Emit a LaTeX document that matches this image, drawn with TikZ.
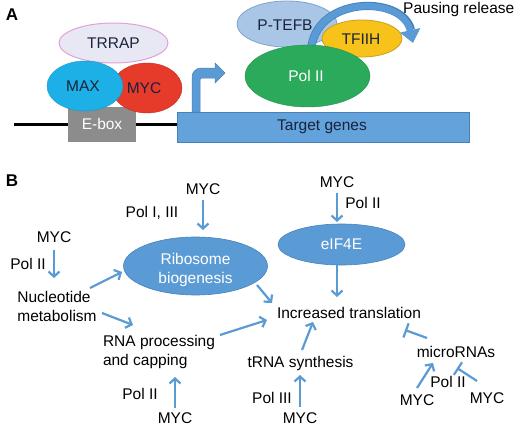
\documentclass[tikz,border=0pt]{standalone}
\usepackage{fontspec}
\setmainfont{Liberation Sans}
\usetikzlibrary{arrows.meta,shapes.geometric,calc}
\definecolor{ablue}{RGB}{91,155,213}
\definecolor{ablued}{RGB}{70,130,190}
\definecolor{navy}{RGB}{25,35,60}
\definecolor{trrapfill}{RGB}{232,232,244}
\definecolor{trrapline}{RGB}{226,160,214}
\definecolor{maxfill}{RGB}{28,176,230}
\definecolor{mycfill}{RGB}{230,58,42}
\definecolor{eboxfill}{RGB}{140,140,140}
\definecolor{tgfill}{RGB}{100,162,220}
\definecolor{tgline}{RGB}{74,128,184}
\definecolor{polfill}{RGB}{42,170,90}
\definecolor{ptefbfill}{RGB}{169,198,230}
\definecolor{ptefbline}{RGB}{126,164,204}
\definecolor{tfiihfill}{RGB}{247,195,26}
\definecolor{tfiihline}{RGB}{200,160,32}
\tikzset{
  fnt/.style={font=\fontsize{15.5}{19}\selectfont},
  lbl/.style={fnt, inner sep=1pt, text=black},
  albl/.style={fnt, inner sep=1pt, text=navy},
  prot/.style={ellipse, inner sep=0pt, outer sep=0pt},
  bell/.style={ellipse, inner sep=0pt, outer sep=0pt, fill=ablue, draw=ablued, line width=0.6pt},
  arr/.style={draw=ablue, line width=2.2pt, -{Straight Barb[length=5pt,width=11pt]}},
  inh/.style={draw=ablue, line width=2.2pt, -{Bar[width=15pt]}},
  panel/.style={font=\fontsize{17}{20}\selectfont\bfseries, inner sep=0pt}
}
\begin{document}
\begin{tikzpicture}[x=1pt,y=-1pt]
\useasboundingbox[fill=white] (0,0) rectangle (520,431);

% ---------- Panel A ----------
\node[panel] (labA) at (12,15) {A};

% DNA line
\coordinate (dnaL) at (14,124);
\node[draw=tgline, fill=tgfill, line width=0.6pt, minimum width=292pt, minimum height=30pt, inner sep=0pt, anchor=north west] (tg) at (177,112) {};
\draw[line width=3pt, black] (dnaL) -- (dnaL -| tg.west);
\node[albl] (tgtxt) at (322,127) {Target genes};

% TRRAP
\node[prot, fill=trrapfill, draw=trrapline, line width=1pt, minimum width=109pt, minimum height=40pt] (trrap) at (113.5,43) {};
\node[albl] at (trrap) {TRRAP};

% E-box
\node[fill=eboxfill, minimum width=68pt, minimum height=35pt, inner sep=0pt] (ebox) at (102,124.5) {};
\node[fnt, text=white, inner sep=1pt] at (102,124) {E-box};

% MYC and MAX
\node[prot, fill=mycfill, draw=mycfill!85!black, line width=0.4pt, minimum width=70pt, minimum height=50pt] (mycA) at (147,88) {};
\node[prot, fill=maxfill, draw=maxfill!85!black, line width=0.4pt, minimum width=76pt, minimum height=50pt] (maxA) at (85,86) {};
\node[albl] at (83,86) {MAX};
\node[albl] at (144,88) {MYC};

% bent arrow (transcription start)
\filldraw[fill=ablue, draw=ablued, line width=0.5pt]
  (192,112) [rounded corners=9pt] -- (192,68) [sharp corners] -- (215,68) -- (215,63) -- (225,73) -- (215,83) -- (215,78)
  [rounded corners=2pt] -- (200,78) [sharp corners] -- (200,112) -- cycle;

% P-TEFB, TFIIH
\node[prot, fill=ptefbfill, draw=ptefbline, line width=0.8pt, minimum width=100pt, minimum height=46pt] (ptefb) at (287,24) {};
\node[prot, fill=tfiihfill, draw=tfiihline, line width=0.8pt, minimum width=80pt, minimum height=37pt] (tfiih) at (362,38.5) {};
\node[albl] at (285,25) {P-TEFB};
\node[albl] at (361,39) {TFIIH};

% Pausing release arrow
\draw[draw=ablued, line width=8.2pt] (311,52) .. controls (313,-4) and (402,-6) .. (411,30);
\draw[ablue, line width=6.6pt, -{Triangle[length=13pt,width=20pt]}] (311,52) .. controls (313,-4) and (402,-6) .. (413,43);

% Pol II
\node[prot, fill=polfill, draw=polfill!85!black, line width=0.4pt, minimum width=125pt, minimum height=62pt] (pol) at (307.5,76) {};
\node[fnt, text=white, inner sep=1pt] at (306,76) {Pol II};

\node[fnt, inner sep=1pt, anchor=west] (pause) at (402,9) {Pausing release};

% ---------- Panel B ----------
\node[panel] (labB) at (12,181) {B};

\node[lbl] (myc1) at (203,189) {MYC};
\node[lbl] (pol13) at (152,213) {Pol I, III};
\node[bell, minimum width=144pt, minimum height=58pt] (ribo) at (195.5,266) {};
\node[fnt, text=white, inner sep=0pt, align=center] (ribotxt) at (195.5,269.5) {Ribosome\\biogenesis};

\node[lbl] (myc2) at (54,237) {MYC};
\node[lbl] (pol2a) at (28,264) {Pol II};
\node[lbl, align=left, inner sep=0pt] (nuc) at (57,306) {Nucleotide\\metabolism};

\node[lbl, align=left, inner sep=0pt] (rna) at (159,352) {RNA processing\\and capping};
\node[lbl] (pol2b) at (140,394) {Pol II};
\node[lbl] (myc3) at (175,418) {MYC};

\node[lbl] (myc4) at (337,182) {MYC};
\node[lbl] (pol2c) at (363,203) {Pol II};
\node[bell, minimum width=127pt, minimum height=41pt] (eif) at (341.5,244.5) {};
\node[fnt, text=white, inner sep=1pt] (eiftxt) at (341.5,244.5) {eIF4E};

\node[lbl] (inc) at (349,313) {Increased translation};
\node[lbl] (trna) at (300.5,363) {tRNA synthesis};
\node[lbl] (pol3) at (272,398) {Pol III};
\node[lbl] (myc5) at (300,418) {MYC};

\node[lbl] (mir) at (456,352) {microRNAs};
\node[lbl] (myc6) at (417,400) {MYC};
\node[lbl] (pol2d) at (448,382) {Pol II};
\node[lbl] (myc7) at (487,398) {MYC};

% connectors
\draw[arr] ($(myc1)+(0,11)$) -- ($(ribo)+(7.5,-36)$);
\draw[arr] ($(myc2)+(0,13)$) -- ($(nuc)+(-3,-28)$);
\draw[arr] ($(nuc)+(33,-18)$) -- ($(ribo)+(-73.5,6)$);
\draw[arr] ($(nuc)+(45,7)$) -- ($(rna)+(-26,-27)$);
\draw[arr] ($(ribo)+(61.5,19)$) -- ($(inc)+(-77,-10)$);
\draw[arr] ($(rna)+(61,-17)$) -- ($(inc)+(-82,7)$);
\draw[arr] ($(myc3)+(0,-10)$) -- ($(rna)+(16,25)$);
\draw[arr] ($(myc4)+(0,11)$) -- ($(eif)+(-4.5,-22.5)$);
\draw[arr] ($(eif)+(-4.5,20.5)$) -- ($(inc)+(-12,-16)$);
\draw[arr] ($(trna)+(1.5,-13)$) -- ($(inc)+(-36,9)$);
\draw[arr] ($(myc5)+(0,-11)$) -- ($(trna)+(-0.5,12)$);
\draw[inh] ($(mir)+(-29,-14)$) -- ($(inc)+(56,17)$);
\draw[arr] ($(myc6)+(0,-12)$) -- ($(mir)+(-23,11)$);
\draw[inh] ($(myc7)+(-10,-17)$) -- ($(mir)+(1,16)$);
\end{tikzpicture}
\end{document}
